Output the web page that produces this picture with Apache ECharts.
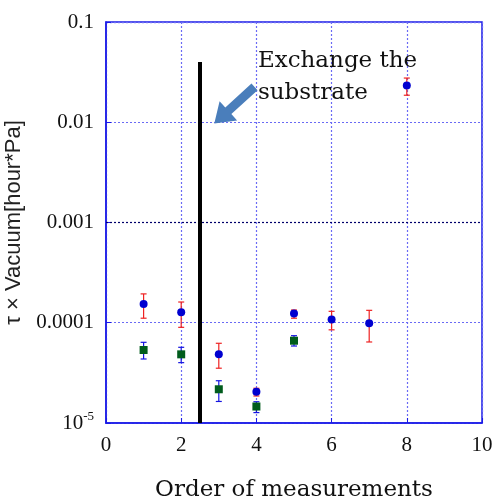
<!DOCTYPE html>
<html>
<head>
<meta charset="utf-8">
<script src="https://cdn.jsdelivr.net/npm/echarts@6/dist/echarts.min.js"></script>
<style>
html,body{margin:0;padding:0;background:#fff;}
#c{width:495px;height:501px;}
</style>
</head>
<body>
<div id="c"></div>
<script>
// ---- data ----
var circleX    = [1, 2, 3, 4, 5, 6, 7, 8];
var circleVal  = [1.54e-4, 1.27e-4, 4.84e-5, 2.05e-5, 1.24e-4, 1.08e-4, 9.9e-5, 0.0232];
var circleLow  = [1.11e-4, 9.0e-5, 3.52e-5, 1.86e-5, 1.11e-4, 8.5e-5, 6.43e-5, 0.0186];
var circleHigh = [1.94e-4, 1.61e-4, 6.24e-5, 2.22e-5, 1.34e-4, 1.30e-4, 1.33e-4, 0.0276];

var squareX    = [1, 2, 3, 4, 5];
var squareVal  = [5.35e-5, 4.84e-5, 2.17e-5, 1.46e-5, 6.62e-5];
var squareLow  = [4.35e-5, 4.0e-5, 1.64e-5, 1.27e-5, 5.86e-5];
var squareHigh = [6.38e-5, 5.69e-5, 2.64e-5, 1.63e-5, 7.43e-5];

var yTickLabels = {'-5': '{b|10}{s|-5}', '-4': '0.0001', '-3': '0.001', '-2': '0.01', '-1': '0.1'};
var xTicks = [0, 2, 4, 6, 8, 10];
var darkGridValue = 0.001;

var dividerX = 2.5;
var dividerTop = 0.04;
var dividerBottom = 1e-5;

var annotationLines = ['Exchange the', 'substrate'];
var annotationPos = [[4.04, 0.0408], [4.04, 0.01936]];
var arrowTail = [3.95, 0.0225];
var arrowTip = [2.88, 0.0097];

var xName = 'Order of measurements';
var yName = 'τ × Vacuum[hour*Pa]';

function zip(xs, ys) { return xs.map(function (x, i) { return [x, ys[i]]; }); }
function errData(xs, lo, hi) { return xs.map(function (x, i) { return [x, lo[i], hi[i]]; }); }

function errorRender(color) {
  return function (params, api) {
    var x = api.value(0);
    var lo = api.coord([x, api.value(1)]);
    var hi = api.coord([x, api.value(2)]);
    var cw = 3;
    var style = { stroke: color, lineWidth: 1.2 };
    return {
      type: 'group',
      children: [
        { type: 'line', shape: { x1: lo[0], y1: lo[1], x2: hi[0], y2: hi[1] }, style: style },
        { type: 'line', shape: { x1: lo[0] - cw, y1: lo[1], x2: lo[0] + cw, y2: lo[1] }, style: style },
        { type: 'line', shape: { x1: hi[0] - cw, y1: hi[1], x2: hi[0] + cw, y2: hi[1] }, style: style }
      ]
    };
  };
}

var gridBlue = '#6a6af5';
var axisBlue = '#1a1ae6';
var serif = '"DejaVu Serif", serif';
var numFont = '"Liberation Serif", serif';

var chart = echarts.init(document.getElementById('c'));
chart.setOption({
  animation: false,
  backgroundColor: '#fff',
  grid: { left: 106, right: 13, top: 22, bottom: 78, containLabel: false, outerBoundsMode: 'none',
    show: true, borderColor: axisBlue, borderWidth: 1.5, backgroundColor: 'transparent' },
  xAxis: {
    type: 'value', min: 0, max: 10, interval: 2,
    name: xName, nameLocation: 'middle', nameGap: 56,
    nameTextStyle: { fontFamily: serif, fontSize: 23, color: '#111' },
    axisLine: { lineStyle: { color: axisBlue, width: 1.5 } },
    axisTick: { inside: true, length: 5, lineStyle: { color: axisBlue } },
    axisLabel: { fontFamily: numFont, fontSize: 21, color: '#111', margin: 12,
      formatter: function (v) { return xTicks.indexOf(v) >= 0 ? String(v) : ''; } },
    splitLine: { show: true, lineStyle: { color: gridBlue, type: [2, 2], width: 1.2 } }
  },
  yAxis: {
    type: 'log', logBase: 10, min: 1e-5, max: 0.1,
    name: yName, nameLocation: 'middle', nameGap: 79,
    nameTextStyle: { fontFamily: '"Liberation Sans", Arial, sans-serif', fontSize: 22, color: '#222' },
    axisLine: { show: true, onZero: false, lineStyle: { color: axisBlue, width: 1.5 } },
    axisTick: { inside: true, length: 5, lineStyle: { color: axisBlue } },
    minorTick: { show: false },
    axisLabel: {
      fontFamily: numFont, fontSize: 21, color: '#111', margin: 12,
      formatter: function (v) {
        var e = Math.round(Math.log10(v));
        return yTickLabels[String(e)] || '';
      },
      rich: {
        b: { fontFamily: numFont, fontSize: 21, color: '#111' },
        s: { fontFamily: numFont, fontSize: 13, color: '#111', padding: [0, 0, 12, 0] }
      }
    },
    splitLine: { show: true, lineStyle: { color: gridBlue, type: [2, 2], width: 1.2 } }
  },
  series: [
    {
      type: 'line', data: [[0, darkGridValue], [10, darkGridValue]],
      symbol: 'none', lineStyle: { color: '#00006a', type: [2, 2], width: 1.2 }, z: 2, silent: true
    },
    {
      type: 'line', data: [[dividerX, dividerTop], [dividerX, dividerBottom]],
      symbol: 'none', lineStyle: { color: '#000', width: 4 }, z: 3, silent: true
    },
    {
      type: 'custom', data: errData(circleX, circleLow, circleHigh),
      renderItem: errorRender('#ee2222'), z: 4, encode: { x: 0, y: [1, 2] }
    },
    {
      type: 'custom', data: errData(squareX, squareLow, squareHigh),
      renderItem: errorRender('#1515e0'), z: 4, encode: { x: 0, y: [1, 2] }
    },
    {
      type: 'scatter', data: zip(circleX, circleVal), symbol: 'circle', symbolSize: 8,
      itemStyle: { color: '#0000d0', opacity: 1 }, z: 5
    },
    {
      type: 'scatter', data: zip(squareX, squareVal), symbol: 'rect', symbolSize: 8,
      itemStyle: { color: '#005c1c', opacity: 1 }, z: 5
    }
  ]
});

// annotation: arrow and text placed through the chart's coordinate system
function px(p) { return chart.convertToPixel({ gridIndex: 0 }, p); }
var T = px(arrowTip), S = px(arrowTail);
var dx = T[0] - S[0], dy = T[1] - S[1], L = Math.sqrt(dx * dx + dy * dy);
var ux = dx / L, uy = dy / L, nx = -uy, ny = ux;
var hw = 4.5, hh = 13, hl = 19;
var H = [T[0] - ux * hl, T[1] - uy * hl];
var pts = [
  [S[0] + nx * hw, S[1] + ny * hw], [H[0] + nx * hw, H[1] + ny * hw], [H[0] + nx * hh, H[1] + ny * hh],
  T, [H[0] - nx * hh, H[1] - ny * hh], [H[0] - nx * hw, H[1] - ny * hw], [S[0] - nx * hw, S[1] - ny * hw]
];
var graphics = [{ type: 'polygon', shape: { points: pts }, style: { fill: '#4a7ebb' }, z: 10 }];
annotationLines.forEach(function (t, i) {
  var p = px(annotationPos[i]);
  graphics.push({ type: 'text', x: p[0], y: p[1], z: 10,
    style: { text: t, fontFamily: serif, fontSize: 23, fill: '#111', align: 'left', verticalAlign: 'middle' } });
});
chart.setOption({ graphic: graphics });
</script>
</body>
</html>
